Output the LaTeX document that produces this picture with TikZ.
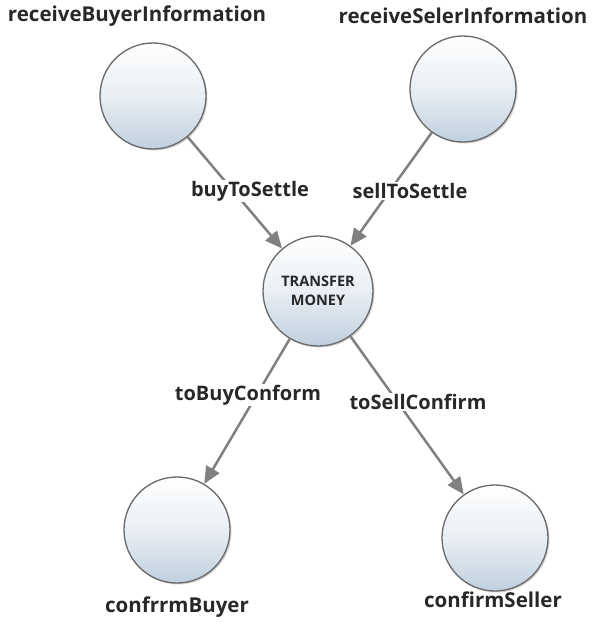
\documentclass[tikz,border=0pt]{standalone}
\usepackage{fontspec}
\setmainfont{Open Sans}
\usetikzlibrary{arrows.meta, shadows}
\definecolor{stateblue}{RGB}{192,208,223}
\definecolor{rim}{RGB}{105,105,105}
\definecolor{link}{RGB}{128,128,128}
\definecolor{ink}{RGB}{40,40,40}

\begin{document}
\begin{tikzpicture}[x=1pt, y=-1pt,
  state/.style={circle, draw=rim, line width=1.3pt, minimum size=106pt,
                top color=white, bottom color=stateblue, middle color=stateblue!35,
                drop shadow={shadow xshift=1.5pt, shadow yshift=-1.5pt, opacity=0.35},
                text=ink, font=\bfseries\fontsize{14.5}{19}\selectfont, align=center},
  title/.style={text=ink, font=\bfseries\fontsize{20.5}{24}\selectfont},
  lbl/.style={fill=white, inner sep=1pt, text=ink, font=\bfseries\fontsize{20}{24}\selectfont},
  arr/.style={-{Triangle[length=17pt, width=15pt]}, line width=2.5pt, link}
]
\useasboundingbox (0,0) rectangle (592,623);

% states
\node[state] (buy)  at (153,96)  {};
\node[state] (sell) at (463,89)  {};
\node[state, minimum size=110pt] (tm) at (318,291) {TRANSFER\\MONEY};
\node[state] (cb)   at (177,530) {};
\node[state] (cs)   at (495,538) {};

% state names
\node[title] (nbuy)  at (137,16)  {receiveBuyerInformation};
\node[title] (nsell) at (463,16)  {receiveSelerInformation};
\node[title] (ncb)   at (177,607) {confrrmBuyer};
\node[title] (ncs)   at (493,600) {confirmSeller};

% transitions
\draw[arr] (buy)  -- (tm);
\draw[arr] (sell) -- (tm);
\draw[arr] (tm)   -- (cb);
\draw[arr] (tm)   -- (cs);

\node[lbl] (lbuy)  at (250,191) {buyToSettle};
\node[lbl] (lsell) at (410,191) {sellToSettle};
\node[lbl] (lcb)   at (248,395) {toBuyConform};
\node[lbl] (lcs)   at (418,402) {toSellConfirm};
\end{tikzpicture}
\end{document}
